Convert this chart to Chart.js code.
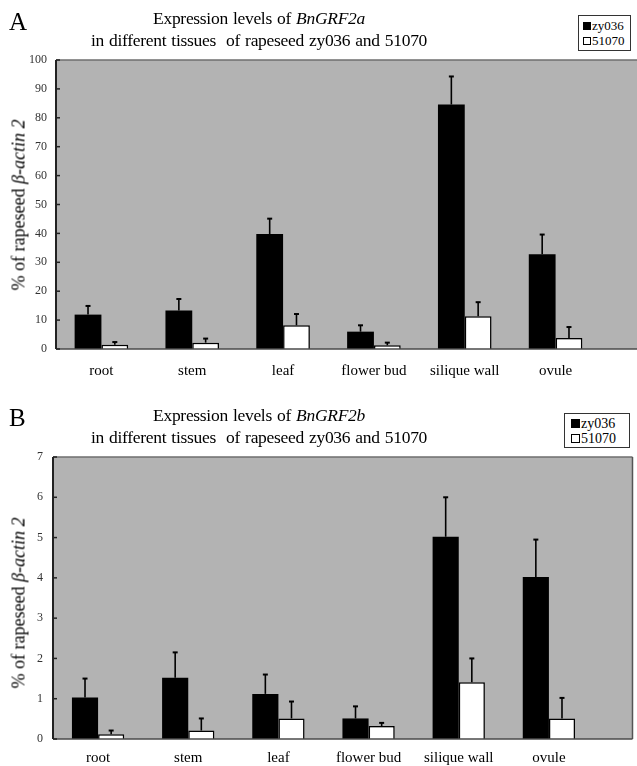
<!DOCTYPE html>
<html>
<head>
<meta charset="utf-8">
<script src="https://cdn.jsdelivr.net/npm/chart.js@4.4.1/dist/chart.umd.min.js"></script>
<style>
  html, body { margin: 0; padding: 0; background: #fff; }
  body { width: 637px; height: 766px; position: relative; overflow: hidden; font-family: "Liberation Serif", "Times New Roman", serif; color: #000; }
  .panel { position: absolute; left: 0; width: 637px; }
  .panel canvas { position: absolute; left: 0; top: 0; }
  .letter { position: absolute; font-size: 25px; line-height: 25px; }
  .title { position: absolute; text-align: center; font-size: 17.5px; letter-spacing: -0.3px; word-spacing: 1px; line-height: 22px; white-space: nowrap; }
  .ytitle { position: absolute; font-size: 18px; white-space: nowrap; transform: translate(-50%, -50%) rotate(-90deg); }
  .legend { position: absolute; border: 1px solid #333; background: #fff; box-sizing: border-box; padding: 2px 0 0 4px; white-space: nowrap; color: #000; }
  .legend div { display: flex; align-items: center; }
  .sw { display: inline-block; box-sizing: border-box; margin-right: 1px; }
</style>
</head>
<body>
<div class="panel" id="pA" style="top:0;height:385px;">
  <canvas id="cA" width="637" height="385"></canvas>
  <div class="letter" style="left:9px;top:9px;">A</div>
  <div class="title" style="left:0;width:518px;top:7px;">Expression levels of <i>BnGRF2a</i><br>in different tissues&nbsp; of rapeseed zy036 and 51070</div>
  <div class="ytitle" style="left:19px;top:205px;">% of rapeseed <i>β-actin 2</i></div>
  <div class="legend" style="left:578px;top:15px;width:53px;height:36px;font-size:13px;line-height:15px;">
    <div><span class="sw" style="width:8px;height:8px;background:#000;"></span>zy036</div>
    <div><span class="sw" style="width:8px;height:8px;border:1px solid #000;background:#fff;"></span>51070</div>
  </div>
</div>
<div class="panel" id="pB" style="top:385px;height:381px;">
  <canvas id="cB" width="637" height="381"></canvas>
  <div class="letter" style="left:9px;top:20px;">B</div>
  <div class="title" style="left:0;width:518px;top:19px;">Expression levels of <i>BnGRF2b</i><br>in different tissues&nbsp; of rapeseed zy036 and 51070</div>
  <div class="ytitle" style="left:19px;top:218px;">% of rapeseed <i>β-actin 2</i></div>
  <div class="legend" style="left:564px;top:28px;width:66px;height:35px;font-size:14px;line-height:15px;padding-left:6px;">
    <div><span class="sw" style="width:9px;height:9px;background:#000;"></span>zy036</div>
    <div><span class="sw" style="width:9px;height:9px;border:1px solid #000;background:#fff;"></span>51070</div>
  </div>
</div>
<script>
// ---------------- data ----------------
const categories = ['root', 'stem', 'leaf', 'flower bud', 'silique wall', 'ovule'];
const seriesNames = ['zy036', '51070'];

// Panel A: BnGRF2a
const aZy036 = [11.9, 13.3, 39.8, 6.0, 84.6, 32.8];
const aZy036Err = [3.0, 4.0, 5.3, 2.2, 9.7, 6.8];
const a51070 = [1.5, 2.2, 8.2, 1.3, 11.3, 3.8];
const a51070Err = [0.9, 1.4, 3.9, 0.9, 4.9, 3.8];
const aYTicks = [0, 10, 20, 30, 40, 50, 60, 70, 80, 90, 100];

// Panel B: BnGRF2b
const bZy036 = [1.03, 1.52, 1.12, 0.51, 5.02, 4.02];
const bZy036Err = [0.47, 0.63, 0.48, 0.30, 0.98, 0.93];
const b51070 = [0.12, 0.21, 0.51, 0.32, 1.41, 0.51];
const b51070Err = [0.09, 0.30, 0.42, 0.08, 0.59, 0.51];
const bYTicks = [0, 1, 2, 3, 4, 5, 6, 7];

// ---------------- drawing ----------------
const panelPlugin = {
  id: 'panel',
  beforeDraw(chart, args, o) {
    const { ctx, chartArea: ca } = chart;
    ctx.save();
    ctx.fillStyle = o.bg;
    ctx.fillRect(ca.left, ca.top, o.right - ca.left, ca.bottom - ca.top);
    ctx.restore();
  },
  afterDatasetsDraw(chart, args, o) {
    const { ctx, chartArea: ca } = chart;
    const ys = chart.scales.y;
    ctx.save();
    // frame
    ctx.lineWidth = 1.5;
    ctx.strokeStyle = o.topColor;
    ctx.beginPath(); ctx.moveTo(ca.left, ca.top); ctx.lineTo(o.right, ca.top); ctx.stroke();
    if (o.rightBorder) {
      ctx.strokeStyle = o.rightColor;
      ctx.beginPath(); ctx.moveTo(o.right, ca.top); ctx.lineTo(o.right, ca.bottom); ctx.stroke();
    }
    ctx.strokeStyle = o.bottomColor;
    ctx.beginPath(); ctx.moveTo(ca.left, ca.bottom); ctx.lineTo(o.right, ca.bottom); ctx.stroke();
    ctx.strokeStyle = o.axisColor;
    ctx.lineWidth = 2;
    ctx.beginPath(); ctx.moveTo(ca.left, ca.top); ctx.lineTo(ca.left, ca.bottom); ctx.stroke();
    // inward ticks
    ctx.lineWidth = 1.5;
    ys.ticks.forEach(t => {
      const py = ys.getPixelForValue(t.value);
      ctx.beginPath(); ctx.moveTo(ca.left, py); ctx.lineTo(ca.left + o.tickLen, py); ctx.stroke();
    });
    // error bars
    ctx.strokeStyle = '#000';
    ctx.lineWidth = 1.6;
    chart.data.datasets.forEach((ds, i) => {
      const meta = chart.getDatasetMeta(i);
      meta.data.forEach((bar, j) => {
        const topPx = ys.getPixelForValue(ds.data[j] + ds.errors[j]);
        ctx.beginPath();
        ctx.moveTo(bar.x, bar.y);
        ctx.lineTo(bar.x, topPx);
        ctx.stroke();
        ctx.lineWidth = 2;
        ctx.beginPath();
        ctx.moveTo(bar.x - o.cap, topPx);
        ctx.lineTo(bar.x + o.cap, topPx);
        ctx.stroke();
        ctx.lineWidth = 1.6;
      });
    });
    ctx.restore();
  }
};

function makeChart(canvasId, d, cfg) {
  return new Chart(document.getElementById(canvasId), {
    type: 'bar',
    data: {
      labels: categories,
      datasets: [
        { label: seriesNames[0], data: d.s1, errors: d.e1, backgroundColor: '#000', borderColor: '#000', borderWidth: 0,
          categoryPercentage: cfg.catPct, barPercentage: 1.0 },
        { label: seriesNames[1], data: d.s2, errors: d.e2, backgroundColor: '#fff', borderColor: '#000', borderWidth: 1.5,
          categoryPercentage: cfg.catPct, barPercentage: 1.0 }
      ]
    },
    options: {
      responsive: false,
      animation: false,
      devicePixelRatio: 1,
      events: [],
      layout: { padding: { top: cfg.padTop, right: cfg.padRight, left: 0, bottom: 0 } },
      plugins: {
        legend: { display: false },
        tooltip: { enabled: false },
        panel: { bg: '#b3b3b3', right: cfg.grayRight, rightBorder: cfg.rightBorder, topColor: '#6e6e6e',
                 rightColor: '#555', bottomColor: '#4a4a4a', axisColor: '#222', tickLen: 4, cap: 2.5 }
      },
      scales: {
        x: {
          grid: { display: false, drawTicks: false },
          border: { display: false },
          ticks: { color: '#000', font: { family: 'Liberation Serif', size: 15 }, padding: cfg.xPad, maxRotation: 0, autoSkip: false },
          afterFit: s => { s.height = cfg.xHeight; }
        },
        y: {
          min: d.ticks[0], max: d.ticks[d.ticks.length - 1],
          grid: { display: false, drawTicks: false },
          border: { display: false },
          afterBuildTicks: s => { s.ticks = d.ticks.map(v => ({ value: v })); },
          ticks: { color: '#333', font: { family: 'Liberation Serif', size: 12 }, padding: cfg.yPad },
          afterFit: s => { s.width = cfg.yWidth; }
        }
      }
    },
    plugins: [panelPlugin]
  });
}

makeChart('cA', { s1: aZy036, e1: aZy036Err, s2: a51070, e2: a51070Err, ticks: aYTicks },
  { catPct: 0.59, padTop: 60, padRight: 36, grayRight: 637, rightBorder: false, xPad: 13, xHeight: 36, yWidth: 56, yPad: 9 });
makeChart('cB', { s1: bZy036, e1: bZy036Err, s2: b51070, e2: b51070Err, ticks: bYTicks },
  { catPct: 0.58, padTop: 72, padRight: 43, grayRight: 632.5, rightBorder: true, xPad: 10, xHeight: 27, yWidth: 53, yPad: 10 });
</script>
</body>
</html>
